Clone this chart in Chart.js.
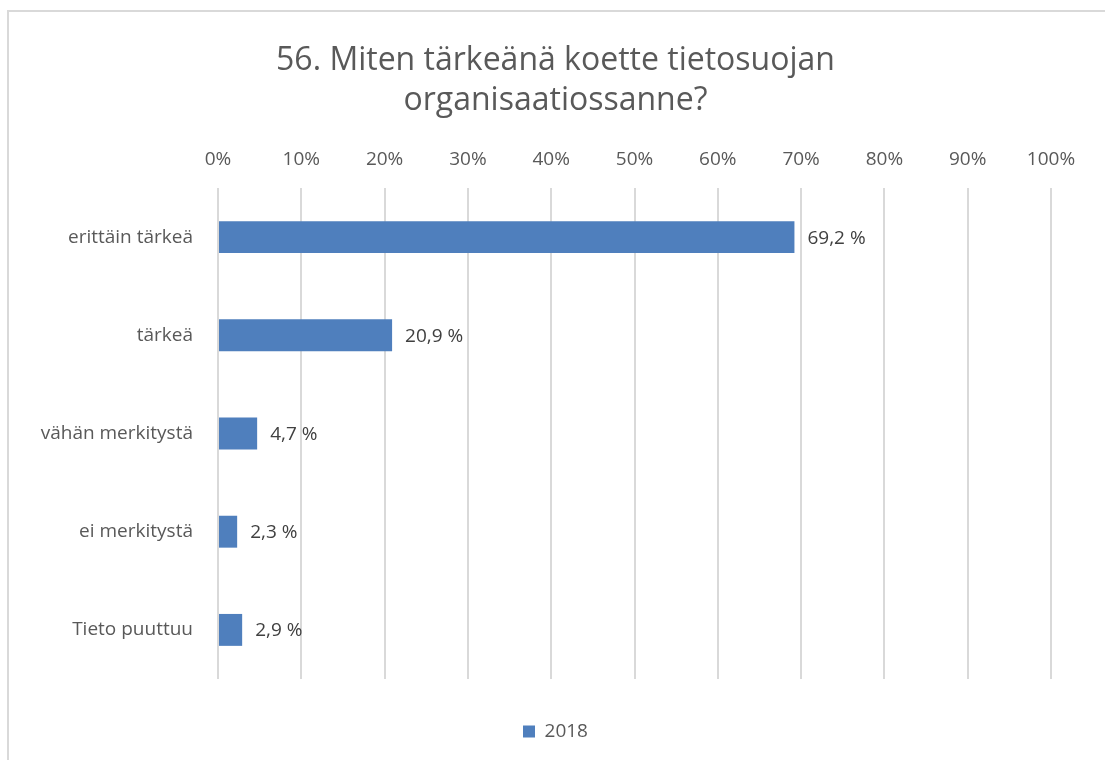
<!DOCTYPE html>
<html>
<head>
<meta charset="utf-8">
<script src="https://cdn.jsdelivr.net/npm/chart.js@4"></script>
<style>
  html, body { margin: 0; padding: 0; background: #fff; overflow: hidden; }
  #wrap { position: relative; width: 1105px; height: 760px; overflow: hidden; }
  #frame { position: absolute; left: 7px; top: 10px; width: 1200px; height: 800px; border: 2px solid #d9d9d9; box-sizing: border-box; pointer-events: none; }
</style>
</head>
<body>
<div id="wrap">
  <canvas id="barChart" width="1105" height="760"></canvas>
  <div id="frame"></div>
</div>
<script>
var categories = ['erittäin tärkeä', 'tärkeä', 'vähän merkitystä', 'ei merkitystä', 'Tieto puuttuu']
var values2018 = [69.2, 20.9, 4.7, 2.3, 2.9]
var seriesName = '2018'
var titleLines = ['56. Miten tärkeänä koette tietosuojan', 'organisaatiossanne?']

var textColor = '#595959'
var barColor = '#4f7fbd'
var fontFamily = '"Open Sans", "DejaVu Sans", sans-serif'

// value labels next to bar ends
var valueLabels = {
  id: 'valueLabels',
  afterDatasetsDraw: function (chart) {
    var ctx = chart.ctx
    var meta = chart.getDatasetMeta(0)
    ctx.save()
    ctx.font = '19px ' + fontFamily
    ctx.fillStyle = '#404040'
    ctx.textAlign = 'left'
    ctx.textBaseline = 'middle'
    meta.data.forEach(function (bar, i) {
      var txt = values2018[i].toFixed(1).replace('.', ',') + ' %'
      ctx.fillText(txt, bar.x + 13, bar.y + 1)
    })
    ctx.restore()
  }
}

var barChart = new Chart(document.getElementById('barChart').getContext('2d'), {
  type: 'bar',
  data: {
    labels: categories,
    datasets: [{
      label: seriesName,
      data: values2018,
      backgroundColor: barColor,
      borderWidth: 0,
      barPercentage: 0.65,
      categoryPercentage: 0.5
    }]
  },
  options: {
    indexAxis: 'y',
    responsive: false,
    animation: false,
    layout: { padding: { top: 41, right: 0, bottom: 9, left: 6 } },
    scales: {
      x: {
        position: 'top',
        min: 0,
        max: 100,
        afterFit: function (scale) { scale.height = 67 },
        ticks: {
          stepSize: 10,
          padding: 17,
          color: textColor,
          font: { size: 19, family: fontFamily },
          callback: function (v) { return v + '%' }
        },
        grid: { color: '#d9d9d9', lineWidth: 2, drawTicks: false },
        border: { display: false }
      },
      y: {
        afterFit: function (scale) { scale.width = 212 },
        ticks: {
          padding: 25,
          color: textColor,
          font: { size: 19, family: fontFamily }
        },
        grid: { display: false, drawTicks: false },
        border: { display: false }
      },
      // empty right-hand spacer so the title stays centred on the whole frame
      spacer: {
        axis: 'y',
        position: 'right',
        display: true,
        afterFit: function (scale) { scale.width = 54 },
        ticks: { display: false },
        grid: { display: false, drawTicks: false },
        border: { display: false }
      }
    },
    plugins: {
      title: {
        display: true,
        text: titleLines,
        color: textColor,
        font: { size: 32, weight: 'normal', family: fontFamily, lineHeight: 1.25 },
        padding: { top: 0, bottom: 0 }
      },
      legend: {
        position: 'bottom',
        labels: {
          color: textColor,
          font: { size: 19, family: fontFamily },
          boxWidth: 12,
          boxHeight: 12,
          padding: 43
        }
      },
      tooltip: { enabled: false }
    }
  },
  plugins: [valueLabels]
})
</script>
</body>
</html>
